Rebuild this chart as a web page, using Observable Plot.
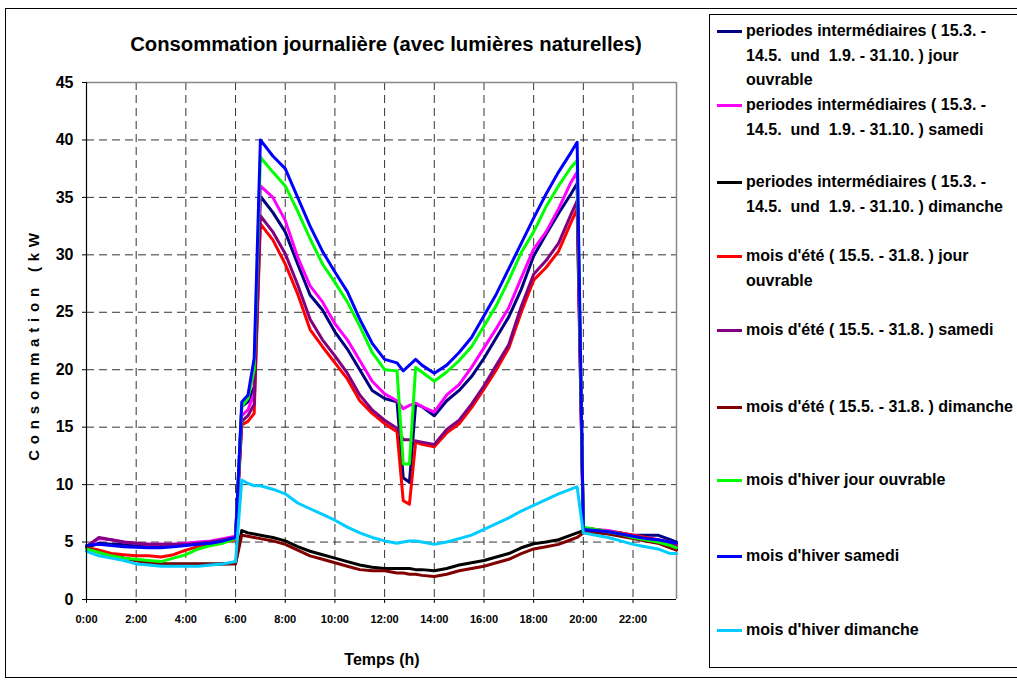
<!DOCTYPE html>
<html><head><meta charset="utf-8">
<script src="https://cdn.jsdelivr.net/npm/d3@7"></script>
<script src="https://cdn.jsdelivr.net/npm/@observablehq/plot@0.6"></script>
<style>
body{margin:0;background:#fff;font-family:"Liberation Sans",Arial,sans-serif;}
#wrap{position:relative;width:1017px;height:681px;overflow:hidden;background:#fff;}
#frame{position:absolute;left:5px;top:8px;width:1030px;height:670px;border:1px solid #000;box-sizing:border-box;}
#title{position:absolute;left:86px;width:600px;top:32px;text-align:center;font-weight:bold;font-size:20.3px;line-height:24px;}
#ylab{position:absolute;left:33px;top:344px;transform:translate(-50%,-50%) rotate(-90deg);font-weight:bold;font-size:15px;letter-spacing:5.8px;white-space:nowrap;}
#xlab{position:absolute;left:382px;top:660px;transform:translate(-50%,-50%);font-weight:bold;font-size:16px;white-space:nowrap;}
#chart{position:absolute;left:0;top:0;}
#legend{position:absolute;left:709px;top:14px;width:330px;height:654px;border:1px solid #000;box-sizing:border-box;}
.item{position:absolute;left:0;font-weight:bold;font-size:16px;line-height:24.5px;white-space:pre;}
.sw{position:absolute;left:7px;top:11px;width:25px;height:3px;}
.tx{position:absolute;left:36px;top:0;}
svg text{font-weight:bold;}
</style>
</head><body>
<div id="wrap">
<div id="frame"></div>
<div id="chart"></div>
<div id="title">Consommation journalière (avec lumières naturelles)</div>
<div id="ylab">Consommation (kW</div>
<div id="xlab">Temps (h)</div>
<div id="legend"></div>
</div>
<script>
const hours = [0,0.5,1,1.5,2,2.5,3,3.5,4,4.5,5,5.5,6,6.25,6.5,6.75,7,7.5,8,8.5,9,9.5,10,10.5,11,11.5,12,12.5,12.75,13,13.25,13.5,14,14.5,15,15.5,16,16.5,17,17.5,18,18.5,19,19.5,19.75,20,20.5,21,21.5,22,22.5,23,23.5,23.75];

const interJour   = [4.5,4.9,4.8,4.8,4.7,4.7,4.7,4.7,4.8,4.9,5.0,5.2,5.4,16.8,17.2,18.5,35.1,33.7,32.0,29.2,26.5,25.2,23.3,21.8,20.0,18.2,17.5,17.2,10.6,10.2,17.0,16.8,16.0,17.3,18.2,19.4,21.0,22.8,24.6,27.0,29.9,31.8,33.6,35.3,36.2,6.2,6.1,5.9,5.8,5.6,5.6,5.6,5.2,5.0];
const interSamedi = [4.6,5.3,5.2,5.0,4.9,4.8,4.8,4.8,4.9,5.0,5.1,5.3,5.5,16.0,16.5,18.0,36.0,35.0,33.0,29.8,27.3,25.9,24.0,22.6,20.8,19.0,17.9,17.3,16.6,16.9,17.1,16.8,16.3,17.8,18.7,20.2,21.9,23.6,25.4,28.0,30.5,32.0,34.0,36.3,37.2,6.2,6.1,6.0,5.8,5.6,5.4,5.2,5.0,4.8];
const interDim    = [4.5,4.2,3.9,3.6,3.4,3.2,3.1,3.1,3.1,3.1,3.1,3.1,3.2,6.0,5.8,5.7,5.6,5.4,5.1,4.6,4.2,3.9,3.6,3.3,3.0,2.8,2.7,2.7,2.7,2.7,2.6,2.6,2.5,2.7,3.0,3.2,3.4,3.7,4.0,4.5,4.85,5.0,5.2,5.6,5.8,6.0,5.9,5.8,5.6,5.4,5.2,5.0,4.6,4.4];
const eteJour     = [4.5,4.3,4.0,3.9,3.8,3.8,3.7,3.9,4.3,4.6,4.9,5.0,5.2,15.2,15.5,16.2,32.7,31.3,29.2,26.6,23.5,22.0,20.6,19.2,17.3,16.2,15.3,14.6,8.6,8.3,13.7,13.5,13.3,14.5,15.3,16.7,18.3,20.0,21.9,25.0,27.8,28.9,30.3,32.8,34.0,6.2,6.1,5.9,5.8,5.6,5.4,5.2,4.9,4.8];
const eteSamedi   = [4.6,5.4,5.2,5.0,4.9,4.8,4.8,4.8,4.8,4.9,5.0,5.2,5.4,15.5,16.0,17.0,33.4,32.0,30.1,27.4,24.4,22.6,21.2,19.7,17.8,16.5,15.6,14.9,13.9,13.9,13.8,13.7,13.5,14.8,15.6,17.0,18.6,20.4,22.2,25.5,28.3,29.5,31.0,33.5,34.7,6.1,6.0,5.9,5.7,5.5,5.3,5.1,4.8,4.6];
const eteDim      = [4.5,4.1,3.8,3.6,3.4,3.2,3.1,3.1,3.1,3.1,3.1,3.1,3.1,5.6,5.5,5.4,5.3,5.1,4.8,4.3,3.8,3.5,3.2,2.9,2.6,2.5,2.5,2.3,2.3,2.2,2.2,2.1,2.0,2.2,2.5,2.7,2.9,3.2,3.5,4.0,4.4,4.6,4.8,5.2,5.4,5.8,5.8,5.7,5.5,5.3,5.1,4.9,4.5,4.3];
const hiverJour   = [4.4,4.1,3.8,3.6,3.5,3.4,3.3,3.6,3.9,4.4,4.7,4.9,5.3,16.8,17.5,20.0,38.5,37.2,36.0,33.8,31.4,29.2,27.6,25.9,23.8,21.5,20.0,19.9,11.8,11.8,20.2,19.8,19.0,19.8,20.8,22.0,23.8,25.6,27.8,30.2,32.0,34.2,36.0,37.6,38.2,6.3,6.1,5.9,5.7,5.4,5.2,5.0,4.7,4.5];
const hiverSamedi = [4.7,4.8,4.7,4.6,4.55,4.5,4.5,4.6,4.7,4.8,4.9,5.1,5.4,17.2,17.8,21.0,40.0,38.6,37.5,35.0,32.5,30.3,28.5,26.8,24.4,22.3,20.9,20.6,19.9,20.4,20.9,20.4,19.7,20.4,21.5,22.8,24.7,26.6,28.8,31.0,33.2,35.3,37.2,38.9,39.8,6.1,6.0,5.9,5.7,5.5,5.3,5.2,5.0,4.9];
const hiverDim    = [4.2,3.8,3.6,3.4,3.1,3.0,2.9,2.9,2.9,2.9,3.0,3.1,3.3,10.4,10.1,9.9,9.9,9.6,9.2,8.4,7.9,7.4,6.9,6.3,5.8,5.4,5.1,4.9,5.0,5.1,5.1,5.0,4.8,5.0,5.3,5.6,6.1,6.6,7.1,7.7,8.2,8.7,9.2,9.6,9.8,5.8,5.6,5.4,5.1,4.8,4.6,4.4,4.0,4.0];

const seriesNames = [
  "periodes intermédiaires ( 15.3. -\n14.5.  und  1.9. - 31.10. ) jour\nouvrable",
  "periodes intermédiaires ( 15.3. -\n14.5.  und  1.9. - 31.10. ) samedi",
  "periodes intermédiaires ( 15.3. -\n14.5.  und  1.9. - 31.10. ) dimanche",
  "mois d'été ( 15.5. - 31.8. ) jour\nouvrable",
  "mois d'été ( 15.5. - 31.8. ) samedi",
  "mois d'été ( 15.5. - 31.8. ) dimanche",
  "mois d'hiver jour ouvrable",
  "mois d'hiver samedi",
  "mois d'hiver dimanche"
];
const seriesValues = [interJour, interSamedi, interDim, eteJour, eteSamedi, eteDim, hiverJour, hiverSamedi, hiverDim];
const seriesColors = ["#000080","#ff00ff","#000000","#ff0000","#800080","#800000","#00ff00","#0000ff","#00ccff"];

const xTicks = [0,2,4,6,8,10,12,14,16,18,20,22];
const yTicks = [0,5,10,15,20,25,30,35,40,45];
const yGrid = [5,10,15,20,25,30,35,40];
const xGrid = [2,4,6,8,10,12,14,16,18,20,22];

const data = [];
seriesNames.forEach((s, i) => hours.forEach((h, j) => data.push({s, h, v: seriesValues[i][j]})));

const chart = Plot.plot({
  width: 700, height: 681,
  marginTop: 82, marginBottom: 82, marginLeft: 86, marginRight: 24,
  style: {fontFamily: "Liberation Sans, Arial, sans-serif", background: "transparent", overflow: "visible"},
  x: {domain: [0, 23.75], label: null},
  y: {domain: [0, 45], label: null},
  color: {domain: seriesNames, range: seriesColors},
  marks: [
    Plot.ruleY(yGrid, {stroke: "#333", strokeDasharray: "8,5", strokeWidth: 1}),
    Plot.ruleX(xGrid, {stroke: "#333", strokeDasharray: "8,5", strokeWidth: 1}),
    Plot.ruleY([45], {stroke: "#888", strokeWidth: 1.5}),
    Plot.ruleX([23.75], {stroke: "#888", strokeWidth: 1.5}),
    Plot.line(data, {x: "h", y: "v", z: "s", stroke: "s", strokeWidth: 3, strokeLinejoin: "round", curve: "linear"}),
    Plot.ruleX([0], {stroke: "#000", strokeWidth: 1.2}),
    Plot.ruleY([0], {stroke: "#000", strokeWidth: 1.2}),
    Plot.axisX(xTicks, {tickSize: 4, tickPadding: 12, tickFormat: d => d + ":00", fontSize: 11, fontWeight: "bold", label: null}),
    Plot.axisY(yTicks, {tickSize: 4, tickPadding: 9, fontSize: 16, fontWeight: "bold", label: null})
  ]
});
document.getElementById("chart").appendChild(chart);

const legendY = [30,104,181,255,329,406,479,555,629];
const lg = document.getElementById("legend");
seriesNames.forEach((s, i) => {
  const it = document.createElement("div");
  it.className = "item";
  it.style.top = (legendY[i] - 14 - 12) + "px";
  const sw = document.createElement("div");
  sw.className = "sw"; sw.style.background = seriesColors[i];
  const tx = document.createElement("div");
  tx.className = "tx"; tx.textContent = s;
  it.appendChild(sw); it.appendChild(tx);
  lg.appendChild(it);
});
</script>
</body></html>
